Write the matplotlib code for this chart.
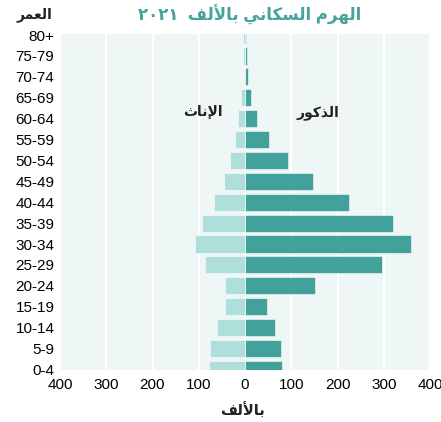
import numpy as np
import matplotlib.pyplot as plt

# الفئات العمرية من الأصغر إلى الأكبر
ages = ['0-4', '5-9', '10-14', '15-19', '20-24', '25-29', '30-34', '35-39',
        '40-44', '45-49', '50-54', '55-59', '60-64', '65-69', '70-74', '75-79', '80+']
males = [81, 78, 64, 48, 152, 297, 358, 319, 224, 147, 94, 52, 27, 12, 6, 4, 2]
females = [78, 76, 61, 43, 43, 86, 109, 92, 68, 45, 32, 21, 16, 9, 3, 5, 4]
xticks = [-400, -300, -200, -100, 0, 100, 200, 300, 400]

# النص العربي بأشكال العرض (matplotlib لا يقوم بتشكيل الحروف)
title_txt = '\u0662\u0660\u0662\u0661  ' \
            '\uFED2\uFEDF\uFEF7\uFE8E\uFE91 ' \
            '\uFEF2\uFEE7\uFE8E\uFEDC\uFEB4\uFEDF\uFE8D ' \
            '\uFEE1\uFEAE\uFEEC\uFEDF\uFE8D'
females_txt = '\uFE99\uFE8E\uFEE7\uFEF9\uFE8D'
males_txt = '\uFEAD\uFEEE\uFEDB\uFEAC\uFEDF\uFE8D'
age_txt = '\uFEAE\uFEE4\uFECC\uFEDF\uFE8D'
unit_txt = '\uFED2\uFEDF\uFEF7\uFE8E\uFE91'

plt.rcParams['font.family'] = ['Liberation Sans', 'DejaVu Sans']

male_col = '#43a19b'
female_col = '#aedfdb'

fig = plt.figure(figsize=(4.41, 4.22), dpi=100)
ax = fig.add_axes([60 / 441, 1 - 370 / 422, 370 / 441, 336 / 422])
ax.set_facecolor('#eff7f6')

y = np.arange(len(ages))
ax.barh(y, males, height=0.82, color=male_col, edgecolor='white', linewidth=0.4, zorder=3)
ax.barh(y, -np.array(females), height=0.82, color=female_col, edgecolor='white',
        linewidth=0.4, zorder=3)

ax.set_xlim(-400, 400)
ax.set_ylim(-0.03, 16.05)
ax.set_xticks(xticks)
ax.set_xticklabels([str(abs(t)) for t in xticks], fontsize=11)
ax.set_yticks(y)
ax.set_yticklabels(ages, fontsize=11)
ax.tick_params(length=0, pad=4)
ax.tick_params(axis='x', pad=6)
ax.xaxis.grid(True, color='white', linewidth=1.5, zorder=1)
ax.set_axisbelow(True)
for s in ax.spines.values():
    s.set_visible(False)

fig.text(250 / 441, 1 - 15 / 422, title_txt, ha='center', va='center',
         fontsize=12, color='#45a39c', fontweight='bold')
fig.text(35 / 441, 1 - 15 / 422, age_txt, ha='center', va='center',
         fontsize=10, fontweight='bold', color='#222222')
ax.text(-91, 12.3, females_txt, ha='center', va='center', fontsize=10,
        fontweight='bold', color='#222222')
ax.text(158, 12.3, males_txt, ha='center', va='center', fontsize=10,
        fontweight='bold', color='#222222')
fig.text(243 / 441, 1 - 411 / 422, unit_txt, ha='center', va='center',
         fontsize=10.5, fontweight='bold', color='#222222')

fig.savefig('out.png', dpi=100)
